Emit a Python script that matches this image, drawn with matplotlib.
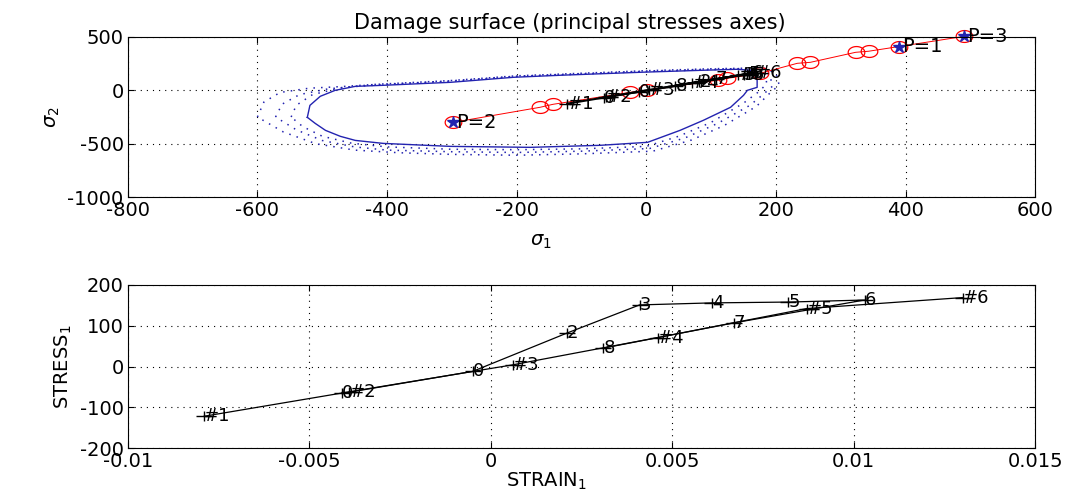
import matplotlib.pyplot as plt
import numpy as np
from matplotlib.path import Path

plt.rcParams['font.family'] = ['DejaVu Sans']
plt.rcParams['mathtext.fontset'] = 'dejavusans'
plt.rcParams['axes.unicode_minus'] = False

# Damage surface (solid blue contour), sigma1 / sigma2
surf_s1 = [-523, -519, -503, -480, -449, -406, -302, -205, -133, -9, 83, 140, 164, 171, 171,
           156, 150, 130, 88, 52, 2, -71, -179, -302, -406, -449, -472, -495, -511, -523]
surf_s2 = [-253, -141, -56, 0, 37, 47, 75, 122, 141, 169, 187, 197, 187, 94, 28,
           0, -47, -159, -281, -375, -487, -515, -534, -525, -497, -469, -431, -375, -309, -253]

# dotted outer contours
dot1_s1 = [-548, -540, -515, -470, -420, -300, -200, -100, 0, 100, 160, 182, 186, 172, 150, 100, 50, 0,
           -100, -200, -300, -400, -455, -500, -530, -548]
dot1_s2 = [-250, -140, -40, 25, 55, 85, 130, 152, 176, 193, 203, 190, 60, -20, -120, -300, -430, -525,
           -548, -556, -552, -530, -495, -430, -340, -250]
dot2_s1 = [-572, -562, -535, -490, -440, -380, -300, -200, -100, 0, 100, 170, 190, 195, 180, 160, 110, 60, 5,
           -100, -200, -300, -400, -450, -500, -540, -572]
dot2_s2 = [-250, -130, -40, 15, 40, 62, 90, 133, 157, 181, 199, 206, 150, 40, -40, -140, -310, -445, -545,
           -570, -582, -575, -560, -530, -470, -370, -250]
dot3_s1 = [-600, -590, -565, -520, -470, -420, -300, -200, -100, 0, 100, 180, 200, 205, 190, 170, 120, 70, 10,
           -100, -200, -300, -380, -450, -510, -560, -600]
dot3_s2 = [-250, -110, -20, 20, 35, 55, 92, 136, 160, 184, 202, 210, 160, 50, -30, -150, -330, -465, -570,
           -595, -608, -600, -585, -560, -500, -390, -250]

# loading path (red)
load_s1 = [-298, -164, -144, -25, 1, 110, 125, 176, 233, 253, 323, 343, 390, 490]
load_s2 = [-300, -159, -131, -19, 0, 94, 112, 160, 253, 262, 356, 366, 410, 505]
p_s1 = [390, -298, 490]
p_s2 = [410, -300, 505]
p_labels = ['P=1', 'P=2', 'P=3']

# stress-strain path, "#" points
hash_labels = ['#1', '#2', '#3', '#4', '#5', '#6']
hash_strain = [-0.0079, -0.0039, 0.0006, 0.0046, 0.0087, 0.0130]
hash_stress = [-122, -62, 4, 71, 142, 169]
hash_s2 = [-125, -64, 2, 68, 139, 165]

# stress-strain path, numbered points
num_labels = ['0', '0', '2', '3', '4', '5', '6', '7', '8']
num_strain = [-0.0041, -0.0005, 0.0021, 0.0041, 0.0061, 0.0082, 0.0103, 0.0067, 0.0031]
num_stress = [-66, -12, 82, 151, 156, 158, 163, 107, 45]
num_s2 = [-68, -14, 80, 148, 152, 155, 160, 104, 43]

# wide markers (the original picture is stretched sideways)
plus_mk = Path([(-1.6, 0), (1.6, 0), (0, -1), (0, 1)],
               [Path.MOVETO, Path.LINETO, Path.MOVETO, Path.LINETO])
t = np.linspace(0, 2 * np.pi, 40)
ell_mk = Path(np.column_stack([1.4 * np.cos(t), np.sin(t)]))

fig = plt.figure(figsize=(10.65, 4.99), dpi=100)
ax1 = fig.add_axes([0.120, 0.605, 0.852, 0.321])
ax2 = fig.add_axes([0.120, 0.102, 0.852, 0.327])

grid_style = dict(color='black', linestyle=(0, (1, 4.5)), linewidth=0.8)
dots = (0, (1, 4))
blue = '#2323b0'

# top: damage surface
for xs, ys in [(dot1_s1, dot1_s2), (dot2_s1, dot2_s2), (dot3_s1, dot3_s2)]:
    ax1.plot(xs, ys, color=blue, linestyle=dots, linewidth=1.1)
ax1.plot(surf_s1, surf_s2, color=blue, linewidth=1)
ax1.plot(load_s1, load_s2, color='red', linewidth=0.7, marker=ell_mk, markersize=12,
         markerfacecolor='none', markeredgewidth=0.9, clip_on=False)
ax1.plot(p_s1, p_s2, linestyle='none', marker='*', color=blue, markersize=9, clip_on=False)
for x, y, s in zip(p_s1, p_s2, p_labels):
    ax1.text(x + 5, y, s, fontsize=14, ha='left', va='center', clip_on=False)
ax1.plot(num_stress, num_s2, color='black', linewidth=1.5, marker=plus_mk, markersize=12)
ax1.plot(hash_stress, hash_s2, color='black', linewidth=1.5, marker=plus_mk, markersize=12)
for x, y, s in zip(hash_stress, hash_s2, hash_labels):
    ax1.text(x, y, s, fontsize=13, ha='left', va='center')
for x, y, s in zip(num_stress, num_s2, num_labels):
    ax1.text(x, y, s, fontsize=13, ha='left', va='center')

ax1.set_xlim(-800, 600)
ax1.set_ylim(-1000, 500)
ax1.set_xticks(np.arange(-800, 601, 200))
ax1.set_yticks([-1000, -500, 0, 500])
ax1.grid(True, **grid_style)
ax1.set_title('Damage surface (principal stresses axes)', fontsize=15, pad=6, x=0.487)
ax1.set_xlabel(r'$\sigma_1$', fontsize=14, labelpad=2)
ax1.xaxis.set_label_coords(0.455, -0.22)
ax1.set_ylabel(r'$\sigma_2$', fontsize=14, labelpad=4)

# bottom: stress-strain
ax2.plot(num_strain, num_stress, color='black', linewidth=0.9, marker=plus_mk, markersize=12)
ax2.plot(hash_strain, hash_stress, color='black', linewidth=0.9, marker=plus_mk, markersize=12)
for x, y, s in zip(hash_strain, hash_stress, hash_labels):
    ax2.text(x, y, s, fontsize=13, ha='left', va='center')
for x, y, s in zip(num_strain, num_stress, num_labels):
    ax2.text(x, y, s, fontsize=13, ha='left', va='center')
ax2.set_xlim(-0.01, 0.015)
ax2.set_ylim(-200, 200)
ax2.set_xticks([-0.01, -0.005, 0, 0.005, 0.01, 0.015])
ax2.set_xticklabels(['-0.01', '-0.005', '0', '0.005', '0.01', '0.015'])
ax2.set_yticks([-200, -100, 0, 100, 200])
ax2.grid(True, **grid_style)
ax2.set_xlabel(r'STRAIN$_1$', fontsize=14, labelpad=0)
ax2.xaxis.set_label_coords(0.461, -0.14)
ax2.set_ylabel(r'STRESS$_1$', fontsize=14, labelpad=4)

for ax in (ax1, ax2):
    ax.tick_params(direction='in', length=4, labelsize=14, top=True, right=True, pad=3)
    for sp in ax.spines.values():
        sp.set_linewidth(0.8)

fig.savefig('out.png', dpi=100, facecolor='white')
